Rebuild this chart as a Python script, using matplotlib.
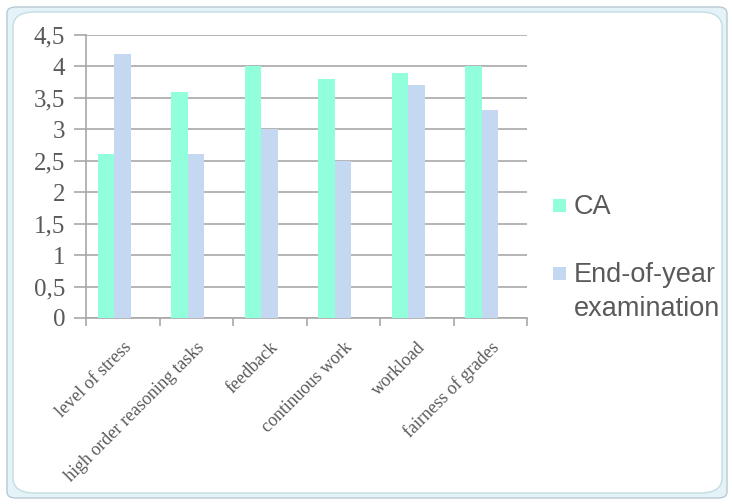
import matplotlib

matplotlib.use("Agg")
import matplotlib.pyplot as plt
import matplotlib.transforms as mtransforms
import numpy as np
from matplotlib.patches import FancyBboxPatch, Rectangle

categories = [
    "level of stress",
    "high order reasoning tasks",
    "feedback",
    "continuous work",
    "workload",
    "fairness of grades",
]
ca_values = [2.6, 3.6, 4.0, 3.8, 3.9, 4.0]
exam_values = [4.2, 2.6, 3.0, 2.5, 3.7, 3.3]
series_names = ["CA", "End-of-year\nexamination"]
y_ticks = [0, 0.5, 1, 1.5, 2, 2.5, 3, 3.5, 4, 4.5]

CA_COLOR = "#91FFDC"
EXAM_COLOR = "#C5D8F1"
TEXT_COLOR = "#5A5A5A"
GRID_COLOR = "#A8A8A8"

W, H = 732, 504
fig = plt.figure(figsize=(W / 100, H / 100), dpi=100)

# rounded frame around the chart (behind the axes)
fig.patches.append(FancyBboxPatch((7 / W, 6 / H), 720 / W, 491 / H,
                                  boxstyle="round,pad=0,rounding_size=0.012",
                                  transform=fig.transFigure, facecolor="#E4F3F7",
                                  edgecolor="#B9C9D2", lw=1, zorder=-10))
fig.patches.append(FancyBboxPatch((13 / W, 11 / H), 709 / W, 481 / H,
                                  boxstyle="round,pad=0,rounding_size=0.03",
                                  transform=fig.transFigure, facecolor="white",
                                  edgecolor="#C4DCE3", lw=1, zorder=-9))

ax = fig.add_axes([86 / W, (H - 318) / H, (527 - 86) / W, (318 - 35) / H])
ax.set_facecolor("none")

x = np.arange(len(categories))
width = 0.225
ax.bar(x - 0.34 + width / 2, ca_values, width, color=CA_COLOR, zorder=3)
ax.bar(x - 0.34 + 1.5 * width, exam_values, width, color=EXAM_COLOR, zorder=3)

ax.set_xlim(-0.5, len(categories) - 0.5)
ax.set_ylim(0, 4.5)
ax.set_yticks(y_ticks)
ax.set_yticklabels([f"{v:g}".replace(".", ",") for v in y_ticks],
                   fontfamily="Liberation Serif", fontsize=18, color=TEXT_COLOR)
ax.yaxis.grid(True, color=GRID_COLOR, lw=1.2, zorder=0)
ax.set_xticks(np.arange(len(categories) + 1) - 0.5)
ax.set_xticklabels([])
ax.set_xticks(x, minor=True)
ax.set_xticklabels(categories, minor=True, rotation=45, ha="right",
                   rotation_mode="anchor", fontfamily="Liberation Serif",
                   fontsize=13, color=TEXT_COLOR)
shift = mtransforms.ScaledTranslation(4 / 100, 0, fig.dpi_scale_trans)
for lbl in ax.get_xticklabels(minor=True):
    lbl.set_transform(lbl.get_transform() + shift)
ax.tick_params(axis="x", which="minor", length=0, pad=15)
ax.tick_params(axis="x", which="major", length=6, color=GRID_COLOR, width=1.2)
ax.tick_params(axis="y", length=9, color=GRID_COLOR, width=1.2, pad=6)
for side in ["top", "right"]:
    ax.spines[side].set_visible(False)
for side in ["left", "bottom"]:
    ax.spines[side].set_color(GRID_COLOR)
    ax.spines[side].set_linewidth(1.2)

# legend on the right, marker next to the first line of each label
for color, label, y_px in [(CA_COLOR, series_names[0], 206), (EXAM_COLOR, series_names[1], 274)]:
    fig.patches.append(Rectangle((553 / W, (H - y_px - 6) / H), 13 / W, 13 / H,
                                 transform=fig.transFigure, facecolor=color, edgecolor="none"))
    fig.text(574 / W, (H - y_px + 12) / H, label, fontfamily="Liberation Sans",
             fontsize=19.5, color=TEXT_COLOR, va="top", ha="left", linespacing=1.4)

fig.savefig("out.png", dpi=100)
